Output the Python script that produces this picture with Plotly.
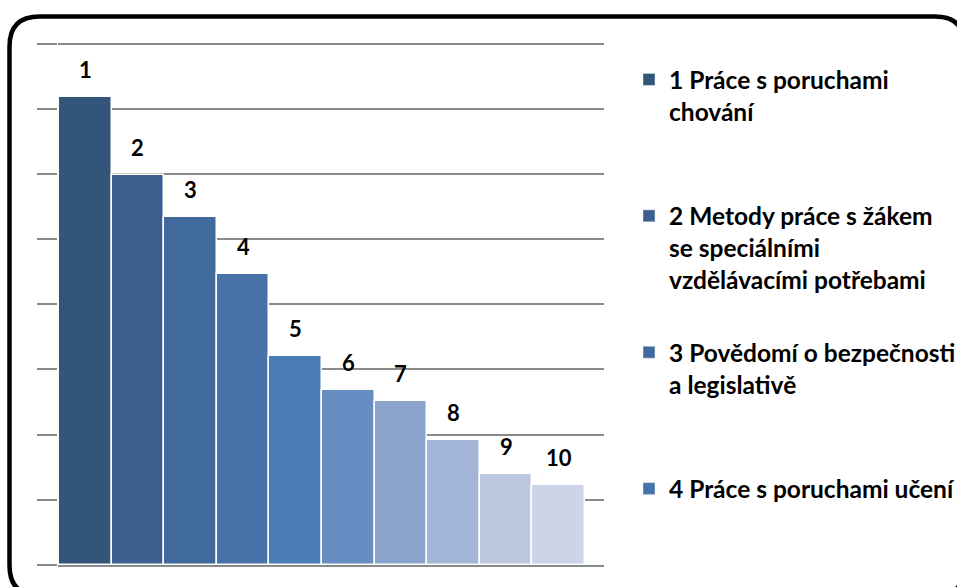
import plotly.graph_objects as go

# bar ranks and heights (in gridline units)
categories = ["1", "2", "3", "4", "5", "6", "7", "8", "9", "10"]
values = [7.18, 5.98, 5.34, 4.47, 3.20, 2.68, 2.52, 1.92, 1.40, 1.22]
bar_colors = ["#33557A", "#3B5E8C", "#406A9C", "#4672A8", "#4A7DB8",
              "#678EC3", "#89A3CB", "#A3B5D6", "#BAC7DF", "#CCD5E7"]

legend_labels = [
    "1 Práce s poruchami<br>chování",
    "2 Metody práce s žákem<br>se speciálními<br>vzdělávacími potřebami",
    "3 Povědomí o bezpečnosti<br>a legislativě",
    "4 Práce s poruchami učení",
]
LEGEND_LINES = 4

W, H = 957, 587
YMAX = 8.1
ML, MR, MB = 58, 353, 21.5
MT = 43.5 - (YMAX - 8) * 65.25
PW, PH = W - ML - MR, H - MT - MB


def px(x):
    return (x - ML) / PW


def py(y):
    return (H - MB - y) / PH


GRID = "#8A8A8A"
FONT = "Lato"

fig = go.Figure()
fig.add_trace(go.Bar(
    x=categories, y=values,
    marker=dict(color=bar_colors, line=dict(color="white", width=1.5)),
    width=1.0, showlegend=False, hoverinfo="skip",
))

# legend entries (one dummy bar per legend item, padded to equal height)
for i, lab in enumerate(legend_labels):
    n = lab.count("<br>") + 1
    pad = "<br> " * (LEGEND_LINES - n) if i < len(legend_labels) - 1 else ""
    fig.add_trace(go.Bar(
        x=[None], y=[None], name=lab + pad,
        marker=dict(color=bar_colors[i]),
        legendgroup=str(i), showlegend=True,
    ))

for i, (c, v) in enumerate(zip(categories, values)):
    fig.add_annotation(
        x=i, y=v, text=c, showarrow=False,
        yanchor="bottom", yshift=12,
        font=dict(family=FONT, size=22, color="black", weight="bold"),
    )

# rounded outer frame
x0, y0, x1, y1, r = 9.5, 16.5, 965, 596, 30
path = (
    f"M {px(x0)},{py(y0 + r)} Q {px(x0)},{py(y0)} {px(x0 + r)},{py(y0)} "
    f"L {px(x1 - r)},{py(y0)} Q {px(x1)},{py(y0)} {px(x1)},{py(y0 + r)} "
    f"L {px(x1)},{py(y1 - r)} Q {px(x1)},{py(y1)} {px(x1 - r)},{py(y1)} "
    f"L {px(x0 + r)},{py(y1)} Q {px(x0)},{py(y1)} {px(x0)},{py(y1 - r)} Z"
)
fig.add_shape(type="path", path=path, xref="paper", yref="paper",
              line=dict(color="black", width=4.5), layer="above")

fig.update_layout(
    width=W, height=H,
    margin=dict(l=ML, r=MR, t=MT, b=MB, autoexpand=False),
    paper_bgcolor="white", plot_bgcolor="white",
    bargap=0,
    xaxis=dict(
        type="category",
        range=[-0.519, 9.861], showticklabels=False, ticks="",
        showgrid=False, zeroline=False,
        showline=True, linecolor=GRID, linewidth=2,
    ),
    yaxis=dict(
        range=[0, YMAX], tickvals=list(range(0, 9)),
        showticklabels=False, ticks="outside", ticklen=20,
        tickcolor=GRID, tickwidth=2,
        showgrid=True, gridcolor=GRID, gridwidth=1.6,
        zeroline=False, showline=False,
    ),
    legend=dict(
        x=px(629), xanchor="left", y=py(57), yanchor="top",
        valign="top", bgcolor="rgba(0,0,0,0)", tracegroupgap=6,
        font=dict(family=FONT, size=24.5, color="black", weight="bold"),
    ),
    showlegend=True,
)

fig.write_html("out.html", config={"displayModeBar": False},
               post_script="document.body.style.margin='0';")
